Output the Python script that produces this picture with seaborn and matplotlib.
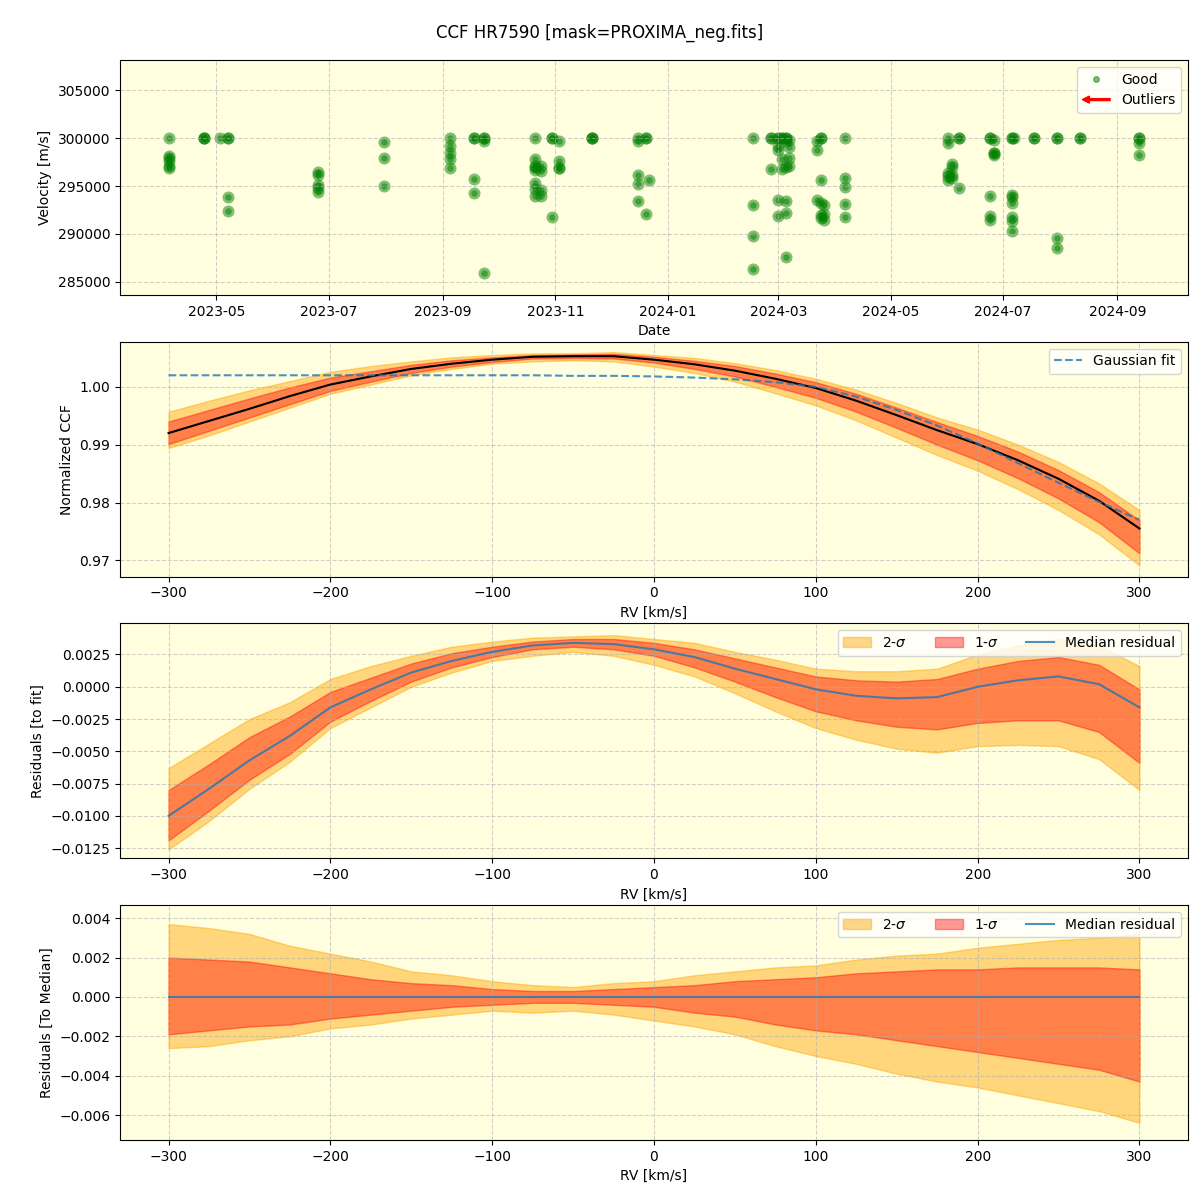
import matplotlib
matplotlib.use('Agg')
import matplotlib.pyplot as plt
import matplotlib.patches as mpatches
from matplotlib.lines import Line2D
from matplotlib.legend_handler import HandlerPatch
import pandas as pd
import seaborn as sns

TITLE = 'CCF HR7590 [mask=PROXIMA_neg.fits]'
BG = 'lightyellow'

# --- top panel: RV per epoch (m/s) ---
epochs = [
    '2023-04-05', '2023-04-24', '2023-05-03', '2023-05-07', '2023-06-25',
    '2023-07-31', '2023-09-05', '2023-09-18', '2023-09-23', '2023-10-21',
    '2023-10-24', '2023-10-30', '2023-11-03', '2023-11-21', '2023-12-16',
    '2023-12-20', '2023-12-22',
    '2024-02-16', '2024-02-26', '2024-03-01', '2024-03-03', '2024-03-05',
    '2024-03-07', '2024-03-22', '2024-03-24', '2024-03-26', '2024-04-06',
    '2024-06-01', '2024-06-03', '2024-06-07', '2024-06-24', '2024-06-26',
    '2024-07-06', '2024-07-07', '2024-07-18', '2024-07-30', '2024-08-12',
    '2024-09-13',
]
epoch_velocities = [
    [300000, 298090, 297880, 297570, 297110, 296870],
    [300000, 300000, 300000],
    [300000],
    [300000, 300000, 293840, 292350],
    [296490, 296140, 295130, 294780, 294400],
    [299620, 297910, 294990],
    [300000, 299200, 298430, 297810, 296870],
    [300000, 300000, 295760, 294260],
    [300000, 300000, 299650, 285910],
    [300000, 297840, 297110, 296970, 296700, 295300, 294710, 293950],
    [297040, 296520, 294610, 293950],
    [300000, 300000, 291760],
    [299720, 297630, 296870, 296870],
    [300000, 300000, 300000],
    [300000, 299650, 296170, 295170, 293430],
    [300000, 300000, 292100],
    [295650],
    [300000, 293040, 289810, 286330],
    [300000, 300000, 296800],
    [300000, 300000, 299130, 298780, 293530, 291900],
    [300000, 300000, 297810, 296800],
    [300000, 300000, 299690, 296970, 293430, 292170, 287580],
    [299830, 299060, 297910, 297040],
    [299650, 298780, 293530],
    [300000, 300000, 295650, 293220, 292000, 291650],
    [293040, 292100, 291480],
    [300000, 295830, 294890, 293110, 291790],
    [300000, 299480, 296350, 296000, 295650],
    [297290, 296940, 296170, 295830],
    [300000, 300000, 294820],
    [300000, 300000, 293980, 291830, 291480],
    [299830, 298430, 298430, 298260],
    [300000, 300000, 294090, 293840, 293220, 291720, 291300, 290260],
    [300000],
    [300000, 300000],
    [300000, 300000, 289570, 288520],
    [300000, 300000],
    [300000, 300000, 299480, 298190],
]

# --- CCF panels, sampled every 25 km/s ---
rv_kms = [-300, -275, -250, -225, -200, -175, -150, -125, -100, -75, -50, -25, 0,
          25, 50, 75, 100, 125, 150, 175, 200, 225, 250, 275, 300]
ccf_median = [0.9920, 0.9941, 0.9962, 0.9984, 1.0004, 1.0018, 1.0031, 1.0040, 1.0047,
              1.0052, 1.0053, 1.0053, 1.0047, 1.0039, 1.0028, 1.0014, 0.9998, 0.9976,
              0.9951, 0.9925, 0.9901, 0.9873, 0.9841, 0.9803, 0.9755]
gauss_fit = [1.0020, 1.0020, 1.0020, 1.0020, 1.0020, 1.0020, 1.0020, 1.0020, 1.0020,
             1.0020, 1.0019, 1.0019, 1.0018, 1.0016, 1.0013, 1.0008, 1.0000, 0.9983,
             0.9960, 0.9933, 0.9902, 0.9868, 0.9834, 0.9801, 0.9770]
resid_fit = [-0.0100, -0.0079, -0.0057, -0.0038, -0.0016, -0.0002, 0.0011, 0.0020, 0.0027,
             0.0032, 0.0034, 0.0033, 0.0029, 0.0023, 0.0014, 0.0006, -0.0002, -0.0007,
             -0.0009, -0.0008, 0.0000, 0.0005, 0.0008, 0.0002, -0.0016]
resid_median = [0.0, 0.0, 0.0, 0.0, 0.0, 0.0, 0.0, 0.0, 0.0, 0.0, 0.0, 0.0, 0.0,
                0.0, 0.0, 0.0, 0.0, 0.0, 0.0, 0.0, 0.0, 0.0, 0.0, 0.0, 0.0]

# spread around the median (percentile offsets)
sig1_up = [0.0020, 0.0019, 0.0018, 0.0015, 0.0012, 0.0009, 0.0007, 0.0006, 0.0004,
           0.0003, 0.0003, 0.0004, 0.0005, 0.0006, 0.0008, 0.0009, 0.0010, 0.0012,
           0.0013, 0.0014, 0.0014, 0.0015, 0.0015, 0.0015, 0.0014]
sig1_dn = [0.0019, 0.0017, 0.0015, 0.0014, 0.0011, 0.0009, 0.0007, 0.0005, 0.0004,
           0.0003, 0.0003, 0.0004, 0.0005, 0.0008, 0.0010, 0.0014, 0.0017, 0.0019,
           0.0022, 0.0025, 0.0028, 0.0031, 0.0034, 0.0037, 0.0043]
sig2_up = [0.0037, 0.0035, 0.0032, 0.0026, 0.0022, 0.0018, 0.0013, 0.0011, 0.0008,
           0.0006, 0.0005, 0.0007, 0.0008, 0.0011, 0.0013, 0.0015, 0.0016, 0.0019,
           0.0021, 0.0022, 0.0025, 0.0027, 0.0029, 0.0030, 0.0032]
sig2_dn = [0.0026, 0.0025, 0.0022, 0.0020, 0.0016, 0.0014, 0.0011, 0.0009, 0.0007,
           0.0008, 0.0007, 0.0009, 0.0012, 0.0015, 0.0019, 0.0025, 0.0030, 0.0034,
           0.0039, 0.0043, 0.0046, 0.0050, 0.0054, 0.0058, 0.0064]


class ArrowHandler(HandlerPatch):
    """Draw a left-pointing red arrow as legend key."""
    def create_artists(self, legend, orig_handle, xdescent, ydescent,
                       width, height, fontsize, trans):
        arrow = mpatches.FancyArrow(width - xdescent, height / 2 - ydescent, -width, 0,
                                    width=1.4, head_width=5, head_length=5,
                                    length_includes_head=True, color='red')
        arrow.set_transform(trans)
        return [arrow]


def band_panel(ax, center, ylabel, ylim, line_label):
    s = pd.Series(center)
    ax.fill_between(rv_kms, s - pd.Series(sig2_dn), s + pd.Series(sig2_up),
                    color='orange', alpha=0.45,
                    label=r'2-$\sigma$' if line_label else None)
    ax.fill_between(rv_kms, s - pd.Series(sig1_dn), s + pd.Series(sig1_up),
                    color='red', alpha=0.4,
                    label=r'1-$\sigma$' if line_label else None)
    if line_label:
        sns.lineplot(x=rv_kms, y=center, color='tab:blue', alpha=0.8, lw=1.5,
                     label=line_label, ax=ax)
    ax.set_ylim(*ylim)
    ax.set_xlabel('RV [km/s]')
    ax.set_ylabel(ylabel)


def main():
    rows = []
    for d, vals in zip(epochs, epoch_velocities):
        for v in vals:
            rows.append((pd.Timestamp(d), v))
    obs = pd.DataFrame(rows, columns=['date', 'velocity'])

    fig, axes = plt.subplots(4, 1, figsize=(12, 12), dpi=100)
    fig.subplots_adjust(left=0.1, right=0.99, top=0.95, bottom=0.05, hspace=0.2)
    fig.suptitle(TITLE, fontsize=12)

    for ax in axes:
        ax.set_facecolor(BG)
        ax.grid(True, linestyle='--', alpha=0.6)

    # panel 1: velocities over time
    ax = axes[0]
    sns.scatterplot(data=obs, x='date', y='velocity', color='green', alpha=0.5,
                    s=75, linewidth=0, legend=False, ax=ax)
    sns.scatterplot(data=obs, x='date', y='velocity', color='green', alpha=0.5,
                    s=22, linewidth=0, legend=False, ax=ax)
    ax.set_ylim(283650, 308150)
    ax.set_xlabel('Date')
    ax.set_ylabel('Velocity [m/s]')
    good = Line2D([], [], marker='o', ls='', color='green', alpha=0.5, markersize=4)
    outl = mpatches.FancyArrow(0, 0, 1, 0, color='red')
    ax.legend([good, outl], ['Good', 'Outliers'], loc='upper right',
              handler_map={mpatches.FancyArrow: ArrowHandler()})

    # panel 2: normalised CCF
    ax = axes[1]
    band_panel(ax, ccf_median, 'Normalized CCF', (0.9672, 1.0078), None)
    sns.lineplot(x=rv_kms, y=ccf_median, color='black', lw=1.5, ax=ax)
    sns.lineplot(x=rv_kms, y=gauss_fit, color='tab:blue', alpha=0.8, lw=1.5,
                 linestyle='--', label='Gaussian fit', ax=ax)
    ax.legend(loc='upper right')

    # panel 3: residuals to the gaussian fit
    ax = axes[2]
    band_panel(ax, resid_fit, 'Residuals [to fit]', (-0.01328, 0.0049), 'Median residual')
    ax.legend(loc='upper right', ncol=3)

    # panel 4: residuals to the median
    ax = axes[3]
    band_panel(ax, resid_median, 'Residuals [To Median]', (-0.00727, 0.00466),
               'Median residual')
    ax.legend(loc='upper right', ncol=3)

    fig.savefig('out.png', dpi=100)
    plt.close(fig)


if __name__ == '__main__':
    main()
